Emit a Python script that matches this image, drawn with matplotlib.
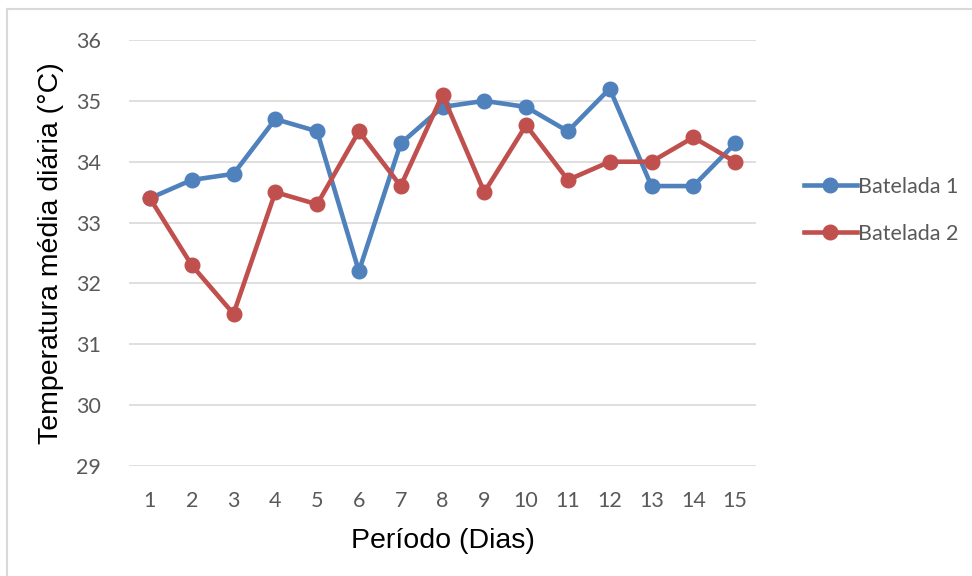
import matplotlib.pyplot as plt
from matplotlib.lines import Line2D

dias = list(range(1, 16))
batelada_1 = [33.4, 33.7, 33.8, 34.7, 34.5, 32.2, 34.3, 34.9, 35.0, 34.9, 34.5, 35.2, 33.6, 33.6, 34.3]
batelada_2 = [33.4, 32.3, 31.5, 33.5, 33.3, 34.5, 33.6, 35.1, 33.5, 34.6, 33.7, 34.0, 34.0, 34.4, 34.0]

azul = "#4F81BD"
vermelho = "#C0504D"
cinza_txt = "#595959"

fig = plt.figure(figsize=(9.72, 5.76), dpi=100)
ax = fig.add_axes([129 / 972, 1 - 466 / 576, 627 / 972, 426 / 576])

estilo = dict(lw=3.3, marker="o", markersize=10.5, solid_capstyle="round")
ax.plot(dias, batelada_1, color=azul, label="Batelada 1", zorder=3, **estilo)
ax.plot(dias, batelada_2, color=vermelho, label="Batelada 2", zorder=3, **estilo)

ax.set_xlim(0.5, 15.5)
ax.set_ylim(29, 36)
ax.set_xticks(dias)
ax.set_yticks(range(29, 37))
ax.grid(axis="y", color="#d9d9d9", lw=1.2)
ax.set_axisbelow(True)
for s in ax.spines.values():
    s.set_visible(False)
ax.tick_params(length=0, labelsize=15.5, labelcolor=cinza_txt)
for lbl in ax.get_xticklabels() + ax.get_yticklabels():
    lbl.set_family("Lato")
ax.tick_params(axis="x", pad=18)
ax.tick_params(axis="y", pad=20)

ax.set_xlabel("Período (Dias)", fontsize=20.5, family="Liberation Sans", labelpad=12)
ax.set_ylabel("Temperatura média diária (°C)", fontsize=20.5, family="Liberation Sans", labelpad=9)

handles = [Line2D([], [], color=c, lw=3.3, marker="o", markersize=10.5) for c in (azul, vermelho)]
ax.legend(handles, ["Batelada 1", "Batelada 2"], loc="center left",
          bbox_to_anchor=(1.045, 0.600), frameon=False, handlelength=2.5,
          handletextpad=0.05, labelspacing=1.25,
          prop={"family": "Lato", "size": 15.5}, labelcolor=cinza_txt)

# moldura cinza da área do gráfico
fig.add_artist(Line2D([7 / 972, 7 / 972], [0, 1 - 9 / 576], color="#d9d9d9", lw=1.5))
fig.add_artist(Line2D([7 / 972, 1], [1 - 9 / 576, 1 - 9 / 576], color="#d9d9d9", lw=1.5))

fig.savefig("out.png", dpi=100)
